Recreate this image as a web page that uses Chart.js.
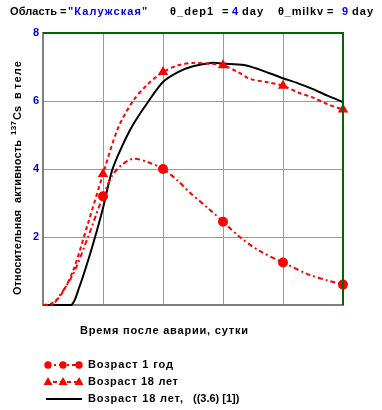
<!DOCTYPE html>
<html lang="ru">
<head>
<meta charset="UTF-8">
<title>Cs-137</title>
<script src="https://cdn.jsdelivr.net/npm/chart.js"></script>
<style>
  body { margin: 0; padding: 0; background: #fff; }
  #wrap { position: relative; width: 382px; height: 410px; }
</style>
</head>
<body>
<div id="wrap"><canvas id="chart"></canvas></div>
<script>
// data
const age1Days   = [0, 3, 5, 10, 15, 20, 23, 26, 30, 35, 40, 45, 49, 55, 60, 66, 72, 80, 89, 95, 100];
const age1Values = [0, 0, 0.2, 0.9, 2.0, 3.2, 3.8, 4.1, 4.3, 4.2, 4.0, 3.65, 3.3, 2.85, 2.45, 1.97, 1.6, 1.25, 0.88, 0.72, 0.6];

const age18Days   = [0, 3, 6, 10, 15, 20, 25, 30, 35, 40, 45, 50, 55, 60, 65, 69, 75, 80, 85, 90, 95, 100];
const age18Values = [0, 0.05, 0.3, 1.0, 2.4, 3.85, 5.2, 6.0, 6.5, 6.85, 7.05, 7.12, 7.1, 7.05, 6.85, 6.65, 6.55, 6.45, 6.25, 6.1, 5.9, 5.75];

const modelDays   = [0, 5, 9.5, 12, 15, 18, 20, 23, 26, 30, 35, 40, 45, 50, 56, 60, 67, 72, 79, 85, 90, 95, 100];
const modelValues = [0, 0, 0, 0.5, 1.3, 2.2, 2.85, 3.95, 4.6, 5.3, 5.97, 6.56, 6.85, 7.02, 7.12, 7.1, 7.06, 6.93, 6.7, 6.52, 6.35, 6.15, 5.97];

const markerDays = [20, 40, 60, 80, 100];
const xTicks = [0, 20, 40, 60, 80, 100];
const yTicks = [2, 4, 6, 8];

const legendLabels = ['Возраст 1 год', 'Возраст 18 лет', 'Возраст 18 лет,  ((3.6) [1])'];

const RED = '#ff0000';
const BLUE = '#0000e0';
const GRID = '#3ddc3d';
const FAMILY = '"Liberation Sans", Arial, sans-serif';
const FONT = 'bold 11px ' + FAMILY;
const SMALL = 'bold 8px ' + FAMILY;

function pts(xs, ys) { return xs.map((x, i) => ({ x: x, y: ys[i] })); }
function markerRadius(c) {
    const p = c.raw;
    return p && markerDays.includes(p.x) ? 4 : 0;
}

// draw text widened (by letter spacing, at most ~1px) toward a given width
function fitText(ctx, s, x, y, w) {
    ctx.letterSpacing = '0px';
    const m = ctx.measureText(s).width;
    const n = Math.max(1, s.length - 1);
    const sp = Math.min(1.1, Math.max(0, (w - m) / n));
    ctx.letterSpacing = sp + 'px';
    ctx.fillText(s, x, y);
    ctx.letterSpacing = '0px';
}

// title, axis titles, frame and legend
const decor = {
    id: 'decor',
    afterDraw(chart) {
        const ctx = chart.ctx;
        const a = chart.chartArea;
        ctx.save();

        // dark frame on top and right
        ctx.strokeStyle = '#006600';
        ctx.lineWidth = 2;
        ctx.beginPath();
        ctx.moveTo(a.left, a.top);
        ctx.lineTo(a.right, a.top);
        ctx.lineTo(a.right, a.bottom);
        ctx.stroke();

        ctx.font = FONT;
        ctx.textBaseline = 'middle';
        ctx.textAlign = 'left';

        // heading: [text, colour, left, width]
        const parts = [
            ['Область', '#000', 10, 47], ['=', '#000', 60, 6], ['"Калужская"', BLUE, 68, 89],
            ['θ_dep1', '#000', 170, 47], ['=', '#000', 222, 6], ['4', BLUE, 232, 6], ['day', '#000', 242, 23],
            ['θ_milkv', '#000', 278, 45], ['=', '#000', 327, 6], ['9', BLUE, 342, 6], ['day', '#000', 352, 21]
        ];
        parts.forEach(p => {
            ctx.fillStyle = p[1];
            fitText(ctx, p[0], p[2], 12, p[3]);
        });

        // x axis title
        ctx.fillStyle = '#000';
        fitText(ctx, 'Время после аварии, сутки', 80, 331, 168);

        // y axis title, rotated: [text, bottom y, top y, small]
        ctx.save();
        ctx.translate(18, 0);
        ctx.rotate(-Math.PI / 2);
        const ySegs = [
            ['Относительная', 295, 210, false], ['активность', 203, 140, false],
            ['137', 135, 121, true], ['Cs', 120, 106, false],
            ['в', 99, 93, false], ['теле', 89, 53, false]
        ];
        ySegs.forEach(s => {
            ctx.font = s[3] ? SMALL : FONT;
            fitText(ctx, s[0], -s[1], s[3] ? -4 : 0, s[1] - s[2]);
        });
        ctx.restore();

        // legend
        const rows = [365, 382, 399];
        ctx.lineWidth = 2;
        ctx.strokeStyle = RED;
        ctx.fillStyle = RED;
        // row 1: dash-dot with circles
        ctx.setLineDash([5, 3, 2, 3]);
        ctx.beginPath(); ctx.moveTo(46, rows[0]); ctx.lineTo(80, rows[0]); ctx.stroke();
        ctx.setLineDash([]);
        [48, 63, 79].forEach(cx => {
            ctx.beginPath(); ctx.arc(cx, rows[0], 3.7, 0, Math.PI * 2); ctx.fill();
        });
        // row 2: dashed with triangles
        ctx.setLineDash([4, 3]);
        ctx.beginPath(); ctx.moveTo(46, rows[1]); ctx.lineTo(80, rows[1]); ctx.stroke();
        ctx.setLineDash([]);
        [48, 63, 79].forEach(cx => {
            ctx.beginPath();
            ctx.moveTo(cx, rows[1] - 5);
            ctx.lineTo(cx + 4.5, rows[1] + 3);
            ctx.lineTo(cx - 4.5, rows[1] + 3);
            ctx.closePath(); ctx.fill();
        });
        // row 3: black solid
        ctx.strokeStyle = '#000';
        ctx.beginPath(); ctx.moveTo(46, rows[2]); ctx.lineTo(82, rows[2]); ctx.stroke();

        ctx.fillStyle = '#000';
        ctx.font = FONT;
        fitText(ctx, legendLabels[0], 88, rows[0], 85);
        fitText(ctx, legendLabels[1], 88, rows[1], 90);
        fitText(ctx, 'Возраст 18 лет,', 88, rows[2], 95);
        fitText(ctx, '((3.6) [1])', 193, rows[2], 45);
        ctx.restore();
    }
};

new Chart(document.getElementById('chart'), {
    type: 'line',
    data: {
        datasets: [
            {
                label: legendLabels[0],
                data: pts(age1Days, age1Values),
                borderColor: RED,
                backgroundColor: RED,
                borderWidth: 2,
                borderDash: [5, 3, 2, 3],
                pointStyle: 'circle',
                pointRadius: markerRadius,
                tension: 0.3,
                clip: 6
            },
            {
                label: legendLabels[1],
                data: pts(age18Days, age18Values),
                borderColor: RED,
                backgroundColor: RED,
                borderWidth: 2,
                borderDash: [4, 3],
                pointStyle: 'triangle',
                pointRadius: markerRadius,
                tension: 0.3,
                clip: 6
            },
            {
                label: legendLabels[2],
                data: pts(modelDays, modelValues),
                borderColor: '#000',
                borderWidth: 2,
                pointRadius: 0,
                tension: 0.3,
                clip: 6
            }
        ]
    },
    options: {
        responsive: true,
        maintainAspectRatio: false,
        animation: false,
        layout: { padding: { left: 0, right: 39, top: 33, bottom: 105 } },
        plugins: { legend: { display: false }, tooltip: { enabled: false } },
        scales: {
            x: {
                type: 'linear',
                min: 0, max: 100,
                afterFit: s => { s.height = 0; },
                afterBuildTicks: s => { s.ticks = xTicks.map(v => ({ value: v })); },
                ticks: { color: BLUE, font: { family: FAMILY, size: 11, weight: 'bold' }, padding: 4, maxRotation: 0 },
                grid: { drawTicks: false, color: GRID, lineWidth: 1 },
                border: { color: '#808080', width: 2 }
            },
            y: {
                min: 0, max: 8,
                afterFit: s => { s.width = 43; },
                afterBuildTicks: s => { s.ticks = [0].concat(yTicks).map(v => ({ value: v })); },
                ticks: {
                    color: BLUE,
                    font: { family: FAMILY, size: 11, weight: 'bold' },
                    padding: 4,
                    callback: v => v === 0 ? '' : v
                },
                grid: { drawTicks: false, color: GRID, lineWidth: 1 },
                border: { color: '#808080', width: 2 }
            }
        }
    },
    plugins: [decor]
});
</script>
</body>
</html>
